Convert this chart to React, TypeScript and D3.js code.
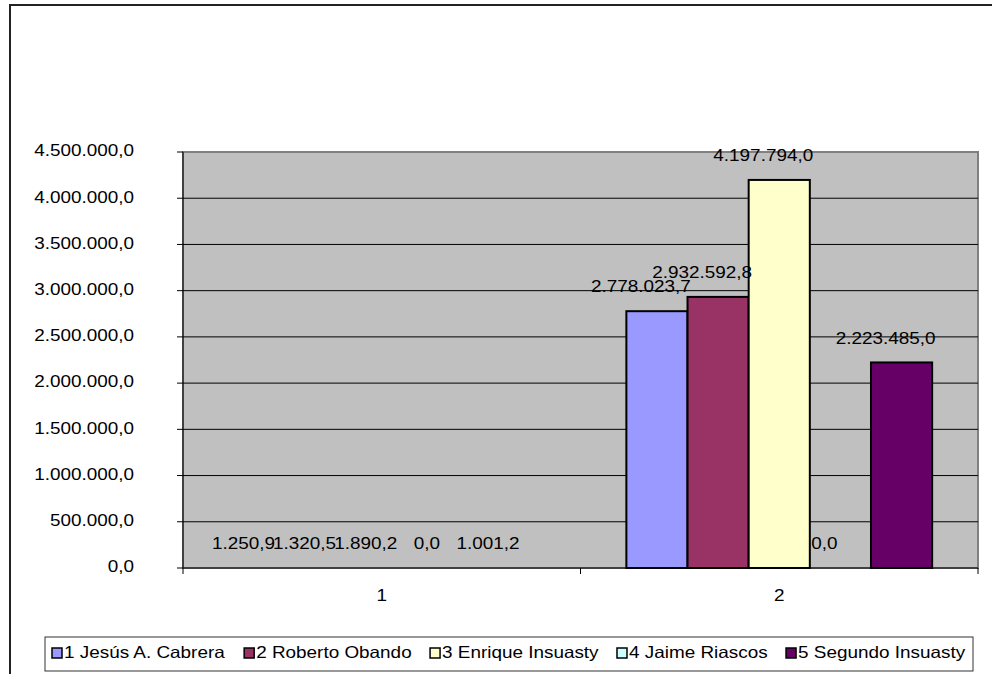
import React from "react";
import * as d3 from "d3";

const categories = ["1", "2"];
const seriesNames = [
  "1 Jesús A. Cabrera",
  "2 Roberto Obando",
  "3 Enrique Insuasty",
  "4 Jaime Riascos",
  "5 Segundo Insuasty",
];
const seriesColors = ["#9999FF", "#993366", "#FFFFCC", "#CCFFFF", "#660066"];
const values1 = [1250.9, 1320.5, 1890.2, 0.0, 1001.2];
const values2 = [2778023.7, 2932592.8, 4197794.0, 0.0, 2223485.0];
const yTicks = [0, 500000, 1000000, 1500000, 2000000, 2500000, 3000000, 3500000, 4000000, 4500000];

const W = 992;
const H = 674;
const FONT = "'Liberation Sans', Arial, sans-serif";
const FS = 16.3;
const SX = 1.16;

const locale = d3.formatLocale({ decimal: ",", thousands: ".", grouping: [3], currency: ["", ""] });
const fmt = locale.format(",.1f");

function measure(text: string): number {
  const c = document.createElement("canvas").getContext("2d")!;
  c.font = `${FS}px 'Liberation Sans', Arial, sans-serif`;
  return c.measureText(text).width * SX;
}

type TProps = {
  x: number;
  y: number;
  anchor?: "start" | "middle" | "end";
  children: React.ReactNode;
};

function T({ x, y, anchor = "start", children }: TProps) {
  return (
    <text
      transform={`translate(${x},${y}) scale(${SX},1)`}
      textAnchor={anchor}
      dominantBaseline="middle"
      fontSize={FS}
      fill="#000"
    >
      {children}
    </text>
  );
}

export default function App() {
  const plot = { left: 183, right: 978, top: 152, bottom: 568 };
  const y = d3.scaleLinear().domain([0, 4500000]).range([plot.bottom, plot.top]);
  const x0 = d3.scaleBand().domain(categories).range([plot.left, plot.right]).paddingInner(0).paddingOuter(0);
  const x1 = d3.scaleBand().domain(seriesNames).range([0, x0.bandwidth()]).paddingInner(0).paddingOuter(0.75);
  const data = [values1, values2];

  // legend layout: items spread across the box
  const legendBox = { x: 45, y: 637, w: 928, h: 34 };
  const widths = seriesNames.map((n) => 13 + measure(n));
  const inner = legendBox.w - 14;
  const gap = (inner - d3.sum(widths)) / (seriesNames.length - 1);
  let lx = legendBox.x + 7;
  const legendItems = seriesNames.map((name, i) => {
    const item = { name, color: seriesColors[i], x: lx };
    lx += widths[i] + gap;
    return item;
  });

  return (
    <svg
      width={W}
      height={H}
      style={{ position: "absolute", left: 0, top: 0, background: "#fff" }}
      fontFamily={FONT}
    >
      {/* chart border */}
      <rect x={10} y={5} width={W + 20} height={H + 20} fill="#fff" stroke="#222" strokeWidth={2} />

      {/* plot area */}
      <rect
        x={plot.left}
        y={plot.top}
        width={plot.right - plot.left}
        height={plot.bottom - plot.top}
        fill="#C0C0C0"
        stroke="#808080"
        strokeWidth={2}
      />
      {/* gridlines */}
      {yTicks.slice(1, -1).map((t) => (
        <line key={t} x1={plot.left} x2={plot.right} y1={y(t)} y2={y(t)} stroke="#000" strokeWidth={1} />
      ))}

      {/* y axis */}
      <line x1={plot.left} x2={plot.left} y1={plot.top} y2={plot.bottom} stroke="#000" strokeWidth={1} />
      {yTicks.map((t) => (
        <g key={t}>
          <line x1={plot.left - 6} x2={plot.left} y1={y(t)} y2={y(t)} stroke="#000" />
          <T x={134} y={y(t)} anchor="end">
            {fmt(t)}
          </T>
        </g>
      ))}

      {/* x axis */}
      <line x1={plot.left} x2={plot.right} y1={plot.bottom} y2={plot.bottom} stroke="#000" strokeWidth={1} />
      {[...categories.map((c) => x0(c)!), plot.right].map((xv, i) => (
        <line key={i} x1={xv} x2={xv} y1={plot.bottom} y2={plot.bottom + 6} stroke="#000" />
      ))}
      {categories.map((c) => (
        <T key={c} x={x0(c)! + x0.bandwidth() / 2} y={597} anchor="middle">
          {c}
        </T>
      ))}

      {/* bars */}
      {categories.map((c, ci) =>
        seriesNames.map((s, si) => {
          const v = data[ci][si];
          const bx = x0(c)! + x1(s)!;
          const by = y(v);
          const h = plot.bottom - by;
          return h > 0.5 ? (
            <rect
              key={`${c}-${s}`}
              x={bx}
              y={by}
              width={x1.bandwidth()}
              height={h}
              fill={seriesColors[si]}
              stroke="#000"
              strokeWidth={2}
            />
          ) : null;
        })
      )}

      {/* data labels */}
      {categories.map((c, ci) =>
        seriesNames.map((s, si) => {
          const v = data[ci][si];
          const cx = x0(c)! + x1(s)! + x1.bandwidth() / 2 - 16;
          return (
            <T key={`l-${c}-${s}`} x={cx} y={y(v) - 23} anchor="middle">
              {fmt(v)}
            </T>
          );
        })
      )}

      {/* legend */}
      <rect
        x={legendBox.x}
        y={legendBox.y}
        width={legendBox.w}
        height={legendBox.h}
        fill="#fff"
        stroke="#333"
        strokeWidth={1}
      />
      {legendItems.map((it) => (
        <g key={it.name}>
          <rect x={it.x} y={648} width={10} height={10} fill={it.color} stroke="#000" strokeWidth={1.5} />
          <T x={it.x + 12} y={654}>
            {it.name}
          </T>
        </g>
      ))}
    </svg>
  );
}
